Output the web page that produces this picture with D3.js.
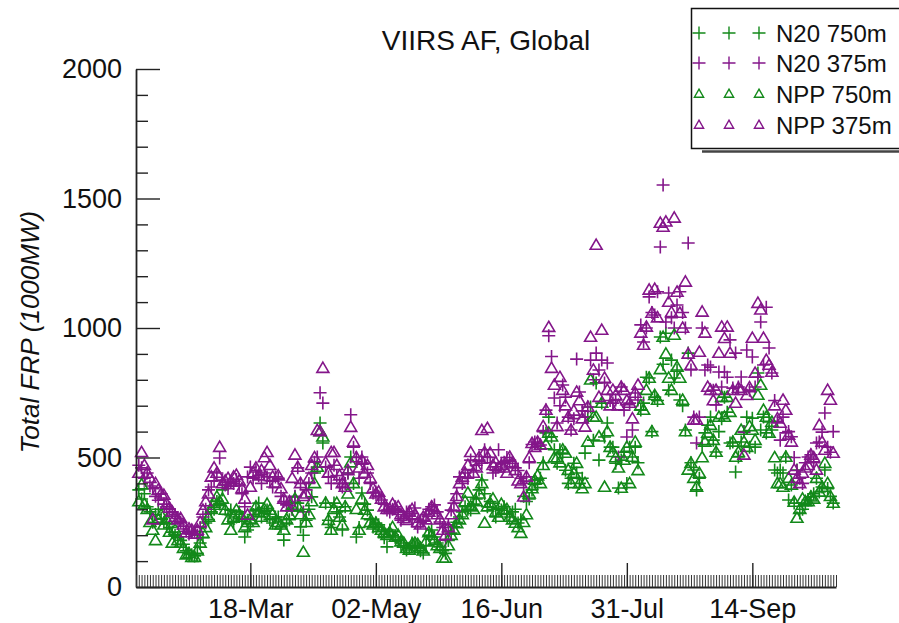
<!DOCTYPE html>
<html><head><meta charset="utf-8">
<script src="https://cdn.jsdelivr.net/npm/d3@7"></script>
<style>
html,body{margin:0;padding:0;background:#fff;}
svg{display:block;font-family:"Liberation Sans",Arial,Helvetica,sans-serif;}
</style></head>
<body><svg id="c" width="899" height="623"></svg>
<script>
// ---- data ----
const title = "VIIRS AF, Global";
const yLabel = "Total FRP (1000MW)";
const axisStart = "2019-02-05", axisEnd = "2019-10-14";
const firstDay = "2019-02-06";           // date of first value in each series
const xTickLabels = ["18-Mar", "02-May", "16-Jun", "31-Jul", "14-Sep"];
const yMajorTicks = [0, 500, 1000, 1500, 2000];
const seriesNames = ["N20 750m", "N20 375m", "NPP 750m", "NPP 375m"];

const n20_750 = [
375,340,360,310,290,250,280,300,265,250, 245,230,212,200,190,180,165,140,130,125,
120,130,170,190,247,260,290,300,330,320, 375,300,280,297,250,270,290,260,193,220,
247,280,300,324,270,290,297,260,247,270, 270,232,181,247,260,300,348,324,232,200,
258,300,348,440,463,633,556,324,258,230, 324,290,270,220,310,440,502,400,193,230,
363,320,297,260,232,247,240,220,190,155, 220,200,193,180,170,160,143,150,170,160,
155,140,131,160,200,220,193,170,155,140, 130,180,208,232,250,270,290,310,300,297,
320,340,375,413,360,310,330,300,270,300, 297,310,280,270,290,300,247,260,350,330,
340,375,413,400,420,480,595,656,580,530, 478,530,517,451,400,420,478,440,400,420,
517,656,695,567,788,490,710,579,633,540, 540,478,382,490,520,400,540,502,540,480,
683,710,810,807,600,733,720,965,860,980, 760,876,807,838,722,700,606,903,480,452,
375,420,550,595,625,656,567,521,600,650, 733,675,556,560,444,502,560,600,656,540,
652,540,826,606,656,595,637,606,452,440, 452,440,502,336,394,324,452,286,300,320,
336,348,360,420,367,386,452,380,350,324];

const n20_375 = [
470,460,420,440,390,380,350,335,360,320, 310,300,290,280,265,250,235,215,205,210,
215,200,230,270,300,375,386,410,440,498, 413,394,380,405,400,415,390,360,310,425,
463,420,450,430,400,440,425,410,386,425, 420,350,330,317,324,300,350,460,400,290,
375,400,440,482,502,750,710,463,425,400, 470,430,400,386,400,440,665,540,500,420,
502,478,440,400,363,367,350,336,320,297, 290,300,310,280,258,270,290,278,260,305,
232,250,258,280,300,310,317,290,251,230, 181,240,297,324,360,425,400,440,420,490,
450,470,490,478,530,500,480,440,450,530, 478,482,500,490,478,460,450,420,400,425,
480,550,560,555,548,600,683,970,890,730, 633,700,780,733,656,606,650,880,753,680,
656,695,876,800,903,838,876,788,865,720, 710,722,502,772,683,579,710,606,749,722,
1012,946,1000,1120,1060,1050,1140,1313,1552,1023, 1135,1040,1000,1089,1140,1060,1000,1328,838,656,
556,656,1000,838,857,849,760,703,830,772, 830,810,954,768,903,772,811,598,915,760,
888,772,811,1023,857,1080,923,826,720,640, 567,656,595,600,580,500,450,420,400,480,
502,510,480,556,560,598,672,540,520,600];

const npp_750 = [
330,395,320,300,250,220,180,260,278,240, 260,212,170,220,180,170,150,125,130,115,
115,140,170,208,230,270,300,324,348,330, 340,297,260,220,270,297,280,270,230,250,
260,250,310,290,270,300,320,297,280,240, 250,240,220,260,280,310,340,310,280,135,
250,280,330,400,463,600,580,324,258,220, 300,324,270,240,310,360,480,400,300,220,
340,297,280,250,240,247,230,220,210,200, 210,230,193,200,175,170,150,143,165,170,
165,150,140,175,210,200,180,160,150,112, 112,160,200,220,245,260,280,330,363,310,
300,330,360,400,247,310,324,340,290,270, 320,297,300,270,260,247,230,208,250,280,
360,380,413,430,400,470,550,595,580,500, 500,480,530,517,451,400,440,478,400,380,
400,560,800,656,656,580,710,386,600,540, 520,500,460,382,490,540,400,502,560,450,
700,683,760,807,600,740,722,840,965,900, 807,760,973,849,807,722,600,452,478,420,
386,440,500,560,595,625,567,521,656,733, 656,733,675,560,502,520,606,560,540,620,
606,567,741,780,683,656,595,637,500,400, 400,386,502,420,394,328,266,300,340,330,
330,348,340,420,367,386,478,400,350,324];

const npp_375 = [
440,520,470,440,420,260,400,375,360,355, 320,305,290,270,260,265,240,210,225,220,
205,220,250,297,330,360,425,460,440,540, 400,410,420,405,425,432,410,380,340,278,
386,440,460,430,450,500,520,470,425,400, 430,380,340,310,330,420,510,463,400,350,
360,420,470,500,605,600,845,480,440,520, 520,470,430,400,386,450,617,560,500,460,
490,440,470,420,380,360,367,340,310,300, 300,320,305,310,280,265,258,290,300,280,
250,240,270,260,290,310,300,280,260,220, 200,230,280,310,350,400,425,440,470,520,
440,460,500,605,520,613,517,470,480,460, 470,460,440,502,480,450,410,400,348,425,
500,555,540,560,548,620,683,1003,845,780, 620,810,760,700,656,606,680,753,720,650,
618,695,965,838,1320,733,992,807,760,700, 760,740,700,772,760,720,710,650,749,780,
981,934,1004,1147,1058,1150,1040,1405,1390,1410, 1100,1060,1425,1139,1058,1000,1178,900,857,645,
645,907,1062,981,772,760,720,760,903,1004, 960,1004,903,760,710,768,760,510,740,770,
961,826,1096,1070,961,876,857,830,700,650, 633,722,683,587,560,452,420,400,440,460,
470,510,500,452,625,560,529,760,722,517];

// ---- setup ----
const GREEN = "#13891a", PURPLE = "#84168a";
const series = [
  {name: seriesNames[0], values: n20_750, color: GREEN, shape: "plus"},
  {name: seriesNames[1], values: n20_375, color: PURPLE, shape: "plus"},
  {name: seriesNames[2], values: npp_750, color: GREEN, shape: "tri"},
  {name: seriesNames[3], values: npp_375, color: PURPLE, shape: "tri"}
];
const shapes = {
  plus: "M-6.5,0H6.5M0,-6.5V6.5",
  tri: "M0,-6L6,4.2L-6,4.2Z"
};
const parse = d3.utcParse("%Y-%m-%d");
const fmt = d3.utcFormat("%d-%b");
const x = d3.scaleUtc().domain([parse(axisStart), parse(axisEnd)]).range([136, 836]);
const y = d3.scaleLinear().domain([0, 2000]).range([587, 69]);
const day0 = parse(firstDay);

const svg = d3.select("#c");

// title
svg.append("text").attr("x", 486).attr("y", 50).attr("text-anchor", "middle")
  .attr("font-size", 28).attr("fill", "#111").text(title);

// y label
svg.append("text").attr("transform", "translate(39,332) rotate(-90)")
  .attr("text-anchor", "middle").attr("font-size", 26).attr("font-style", "italic")
  .attr("fill", "#111").text(yLabel);

// markers
const gPts = svg.append("g");
series.forEach(s => {
  gPts.append("g").selectAll("path").data(s.values).join("path")
    .attr("d", shapes[s.shape])
    .attr("transform", (v, i) => `translate(${x(d3.utcDay.offset(day0, i))},${y(v)})`)
    .attr("fill", "none").attr("stroke", s.color).attr("stroke-width", 1.6);
});

// y axis
const yMinor = d3.range(0, 2001, 100).filter(v => v % 500 !== 0);
svg.append("g").attr("transform", "translate(136,0)")
  .call(d3.axisLeft(y).tickValues(yMinor).tickSize(-12).tickSizeOuter(0).tickFormat(""))
  .call(g => g.selectAll("line").attr("stroke", "#222").attr("stroke-width", 1.4))
  .call(g => g.select(".domain").attr("stroke", "#222").attr("stroke-width", 1.8));
svg.append("g").attr("transform", "translate(136,0)")
  .call(d3.axisLeft(y).tickValues(yMajorTicks).tickSize(-24).tickSizeOuter(0).tickPadding(14)
        .tickFormat(d3.format("d")))
  .call(g => g.select(".domain").remove())
  .call(g => g.selectAll("line").attr("stroke", "#222").attr("stroke-width", 1.4))
  .call(g => g.selectAll("text").attr("font-size", 27).attr("fill", "#111")
     .attr("font-family", "Liberation Sans, Arial, sans-serif"));

// x axis: daily minor ticks
const days = d3.utcDay.range(parse(axisStart), d3.utcDay.offset(parse(axisEnd), 1));
svg.append("g").attr("transform", "translate(0,587)")
  .call(d3.axisBottom(x).tickValues(days).tickSize(-12).tickSizeOuter(0).tickFormat(""))
  .call(g => g.selectAll("line").attr("stroke", "#333").attr("stroke-width", 1))
  .call(g => g.select(".domain").attr("stroke", "#222").attr("stroke-width", 2));
const majorDates = xTickLabels.map(l => d3.utcParse("%d-%b-%Y")(l + "-2019"));
svg.append("g").attr("transform", "translate(0,587)")
  .call(d3.axisBottom(x).tickValues(majorDates).tickSize(-24).tickSizeOuter(0).tickPadding(12).tickFormat(fmt))
  .call(g => g.select(".domain").remove())
  .call(g => g.selectAll("line").attr("stroke", "#222").attr("stroke-width", 1.4))
  .call(g => g.selectAll("text").attr("font-size", 27).attr("fill", "#111")
     .attr("font-family", "Liberation Sans, Arial, sans-serif"));

// legend
const lg = svg.append("g");
lg.append("line").attr("x1", 702).attr("x2", 899).attr("y1", 151.5).attr("y2", 151.5)
  .attr("stroke", "#444").attr("stroke-width", 2.5);
lg.append("rect").attr("x", 691.5).attr("y", 8.5).attr("width", 220).attr("height", 140)
  .attr("fill", "#fff").attr("stroke", "#111").attr("stroke-width", 1.5);
const rowY = [33, 63, 94, 125];
series.forEach((s, i) => {
  [699, 729, 759].forEach(mx => {
    lg.append("path").attr("d", s.shape === "plus" ? shapes.plus : "M0,-4.8L4.6,3.2L-4.6,3.2Z")
      .attr("transform", `translate(${mx},${rowY[i]})`)
      .attr("fill", "none").attr("stroke", s.color).attr("stroke-width", 1.4);
  });
  lg.append("text").attr("x", 776).attr("y", rowY[i] + 8.5).attr("font-size", 24)
    .attr("fill", "#111").text(s.name);
});
</script></body></html>
